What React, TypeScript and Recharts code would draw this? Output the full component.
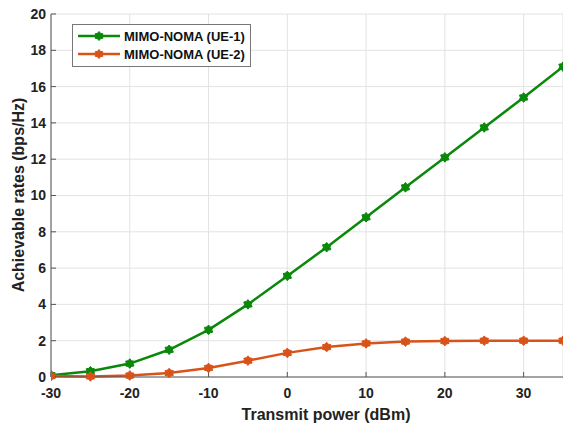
import React from 'react';
import { LineChart, Line, XAxis, YAxis, CartesianGrid, Label } from 'recharts';

const powers = [-30, -25, -20, -15, -10, -5, 0, 5, 10, 15, 20, 25, 30, 35];
const ue1 = [0.1, 0.32, 0.74, 1.5, 2.6, 4.0, 5.57, 7.15, 8.8, 10.45, 12.1, 13.75, 15.4, 17.1];
const ue2 = [0.05, 0.03, 0.08, 0.22, 0.5, 0.9, 1.33, 1.65, 1.85, 1.95, 1.98, 2.0, 2.0, 2.0];
const xTicks = [-30, -20, -10, 0, 10, 20, 30];
const yTicks = [0, 2, 4, 6, 8, 10, 12, 14, 16, 18, 20];
const seriesNames = ['MIMO-NOMA (UE-1)', 'MIMO-NOMA (UE-2)'];
const xLabel = 'Transmit power (dBm)';
const yLabel = 'Achievable rates (bps/Hz)';
const GREEN = '#0a880a';
const ORANGE = '#d95319';

const data = powers.map((p, i) => ({ p, ue1: ue1[i], ue2: ue2[i] }));

const starPoints = (cx: number, cy: number, ro: number, ri: number) => {
  const pts: string[] = [];
  for (let k = 0; k < 12; k++) {
    const r = k % 2 === 0 ? ro : ri;
    const a = -Math.PI / 2 + (k * Math.PI) / 6;
    pts.push(`${cx + r * Math.cos(a)},${cy + r * Math.sin(a)}`);
  }
  return pts.join(' ');
};

const makeDot = (color: string) => (props: any) => {
  const { cx, cy, index } = props;
  if (cx == null || cy == null) return <g key={index} />;
  return <polygon key={index} points={starPoints(cx, cy, 4.8, 3.3)} fill={color} stroke={color} strokeWidth={1} />;
};

const font = '"Liberation Sans", Arial, sans-serif';
const labelStyle = { fill: '#222', fontSize: 16, fontWeight: 'bold' as const, fontFamily: font };

const LegendBox = () => (
  <div style={{ position: 'absolute', left: 72, top: 24, width: 173, height: 39, border: '1px solid #777', background: '#fff', padding: '2px 0 0 4px', fontFamily: font, fontWeight: 'bold', fontSize: 13, color: '#111', boxSizing: 'content-box' }}>
    {[GREEN, ORANGE].map((c, i) => (
      <div key={i} style={{ display: 'flex', alignItems: 'center', height: 18 }}>
        <svg width={44} height={12} style={{ marginRight: 3 }}>
          <line x1={1} y1={6} x2={43} y2={6} stroke={c} strokeWidth={2.5} />
          <polygon points={starPoints(22, 6, 4.5, 3.1)} fill={c} stroke={c} />
        </svg>
        <span>{seriesNames[i]}</span>
      </div>
    ))}
  </div>
);

export default function App() {
  return (
    <div style={{ position: 'absolute', left: 0, top: 0, width: 563, height: 427, background: '#fff' }}>
      <LineChart width={563} height={427} data={data} margin={{ top: 14, right: 0, bottom: 0, left: 0 }}>
        <CartesianGrid stroke="#e3e3e3" strokeWidth={1} />
        <XAxis
          dataKey="p"
          type="number"
          domain={[-30, 35]}
          ticks={xTicks}
          height={50}
          stroke="#555"
          tickSize={-5}
          tickMargin={16}
          tick={{ fill: '#222', fontSize: 14, fontWeight: 'bold', fontFamily: font }}
          allowDataOverflow
        >
          <Label content={() => <text x={326} y={420} textAnchor="middle" style={labelStyle}>{xLabel}</text>} />
        </XAxis>
        <XAxis
          xAxisId="top"
          orientation="top"
          dataKey="p"
          type="number"
          domain={[-30, 35]}
          ticks={xTicks}
          height={0}
          stroke="#555"
          tickSize={-5}
          tick={{ fill: 'transparent' }}
          allowDataOverflow
        />
        <YAxis
          type="number"
          domain={[0, 20]}
          ticks={yTicks}
          width={51}
          stroke="#555"
          tickSize={-5}
          tickMargin={10}
          tick={{ fill: '#222', fontSize: 14, fontWeight: 'bold', fontFamily: font }}
          interval={0}
        >
          <Label content={() => <text x={24} y={195} transform="rotate(-90 24 195)" textAnchor="middle" style={labelStyle}>{yLabel}</text>} />
        </YAxis>
        <Line dataKey="ue1" stroke={GREEN} strokeWidth={2.5} dot={makeDot(GREEN)} isAnimationActive={false} />
        <Line dataKey="ue2" stroke={ORANGE} strokeWidth={2.5} dot={makeDot(ORANGE)} isAnimationActive={false} />
      </LineChart>
      <LegendBox />
    </div>
  );
}
